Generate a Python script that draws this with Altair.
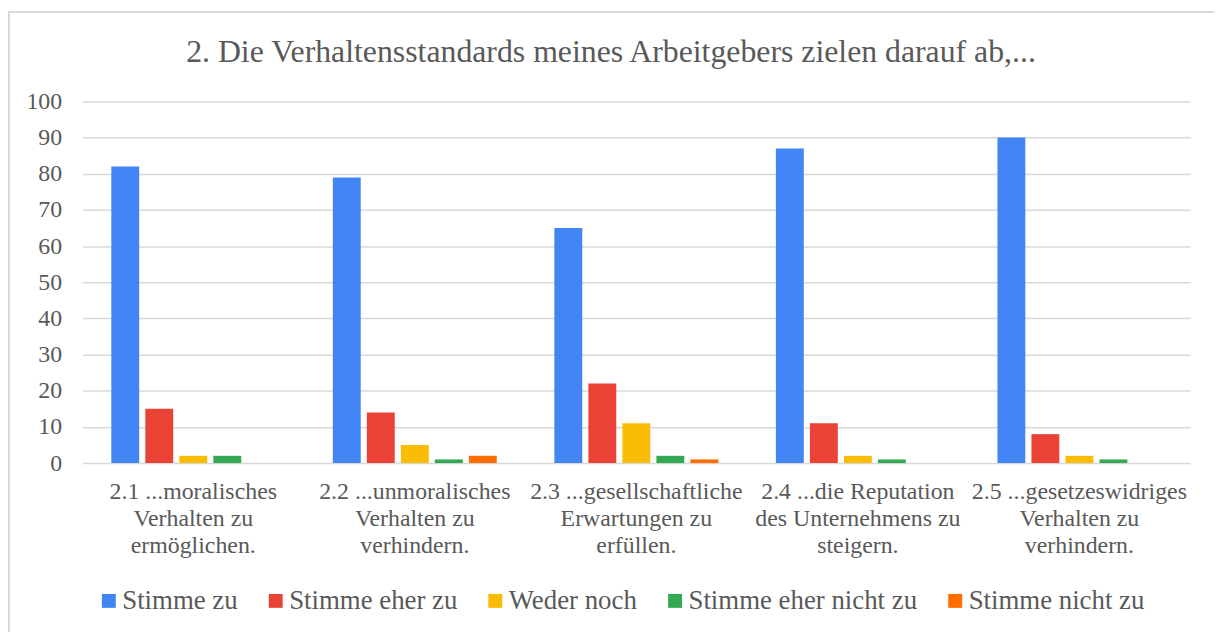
import altair as alt
import pandas as pd

categories = [
    "2.1 ...moralisches|Verhalten zu|ermöglichen.",
    "2.2 ...unmoralisches|Verhalten zu|verhindern.",
    "2.3 ...gesellschaftliche|Erwartungen zu|erfüllen.",
    "2.4 ...die Reputation|des Unternehmens zu|steigern.",
    "2.5 ...gesetzeswidriges|Verhalten zu|verhindern.",
]
series = ["Stimme zu", "Stimme eher zu", "Weder noch", "Stimme eher nicht zu", "Stimme nicht zu"]
stimme_zu = [82, 79, 65, 87, 90]
stimme_eher_zu = [15, 14, 22, 11, 8]
weder_noch = [2, 5, 11, 2, 2]
stimme_eher_nicht_zu = [2, 1, 2, 1, 1]
stimme_nicht_zu = [0, 2, 1, 0, 0]
colors = ["#4285F4", "#EA4335", "#FBBC04", "#34A853", "#FF6D01"]
y_ticks = [0, 10, 20, 30, 40, 50, 60, 70, 80, 90, 100]
title_text = "2. Die Verhaltensstandards meines Arbeitgebers zielen darauf ab,..."

values = [stimme_zu, stimme_eher_zu, weder_noch, stimme_eher_nicht_zu, stimme_nicht_zu]
rows = []
for s, vals in zip(series, values):
    for c, v in zip(categories, vals):
        rows.append({"Kategorie": c, "Antwort": s, "Wert": v})
df = pd.DataFrame(rows)

W, H = 1115, 364
FONT = "Times New Roman, Times, Tinos, Nimbus Roman, FreeSerif, Liberation Serif, DejaVu Serif, serif"
GRAY = "#595959"

bars = alt.Chart(df).mark_bar().encode(
    x=alt.X("Kategorie:N", sort=categories, title=None,
            scale=alt.Scale(paddingInner=0.26, paddingOuter=0.13),
            axis=alt.Axis(labelExpr="split(datum.label, '|')", labelAngle=0,
                          labelFontSize=24, labelLineHeight=27, labelColor=GRAY,
                          labelFont=FONT, labelPadding=17, ticks=False,
                          domain=False, grid=False, labelLimit=400)),
    xOffset=alt.XOffset("Antwort:N", sort=series,
                        scale=alt.Scale(paddingInner=0.18)),
    y=alt.Y("Wert:Q", title=None,
            scale=alt.Scale(domain=[0, 100], nice=False),
            axis=alt.Axis(values=y_ticks, labelFontSize=24, labelColor=GRAY,
                          labelFont=FONT, labelPadding=21, ticks=False,
                          domain=False, gridColor="#d9d9d9", gridWidth=1.5)),
    color=alt.Color("Antwort:N", sort=series,
                    scale=alt.Scale(domain=series, range=colors),
                    legend=alt.Legend(title=None, orient="none", direction="horizontal",
                                      legendX=13, legendY=489, columns=5,
                                      symbolType="square", symbolSize=196,
                                      symbolStrokeWidth=0,
                                      labelFontSize=27, labelFont=FONT, labelColor=GRAY,
                                      columnPadding=24, labelOffset=0,
                                      labelLimit=400)),
)

border = alt.Chart(pd.DataFrame({"a": [0]})).mark_rect(
    fill=None, stroke="#d9d9d9", strokeWidth=2
).encode(
    x=alt.value(-74), x2=alt.value(W + 60),
    y=alt.value(-90), y2=alt.value(H + 240),
)

title = alt.Chart(pd.DataFrame({"t": [title_text]})).mark_text(
    font=FONT, fontSize=32, color=GRAY, align="center", baseline="alphabetic"
).encode(
    text="t:N", x=alt.value(532), y=alt.value(-40),
)

chart = alt.layer(border, bars, title).properties(
    width=W, height=H,
    autosize=alt.AutoSizeParams(type="none"),
    padding={"left": 75, "top": 92, "right": 24, "bottom": 168},
).configure(font=FONT).configure_view(stroke=None)

chart.save("out.html", embed_options={"renderer": "svg", "actions": False})
